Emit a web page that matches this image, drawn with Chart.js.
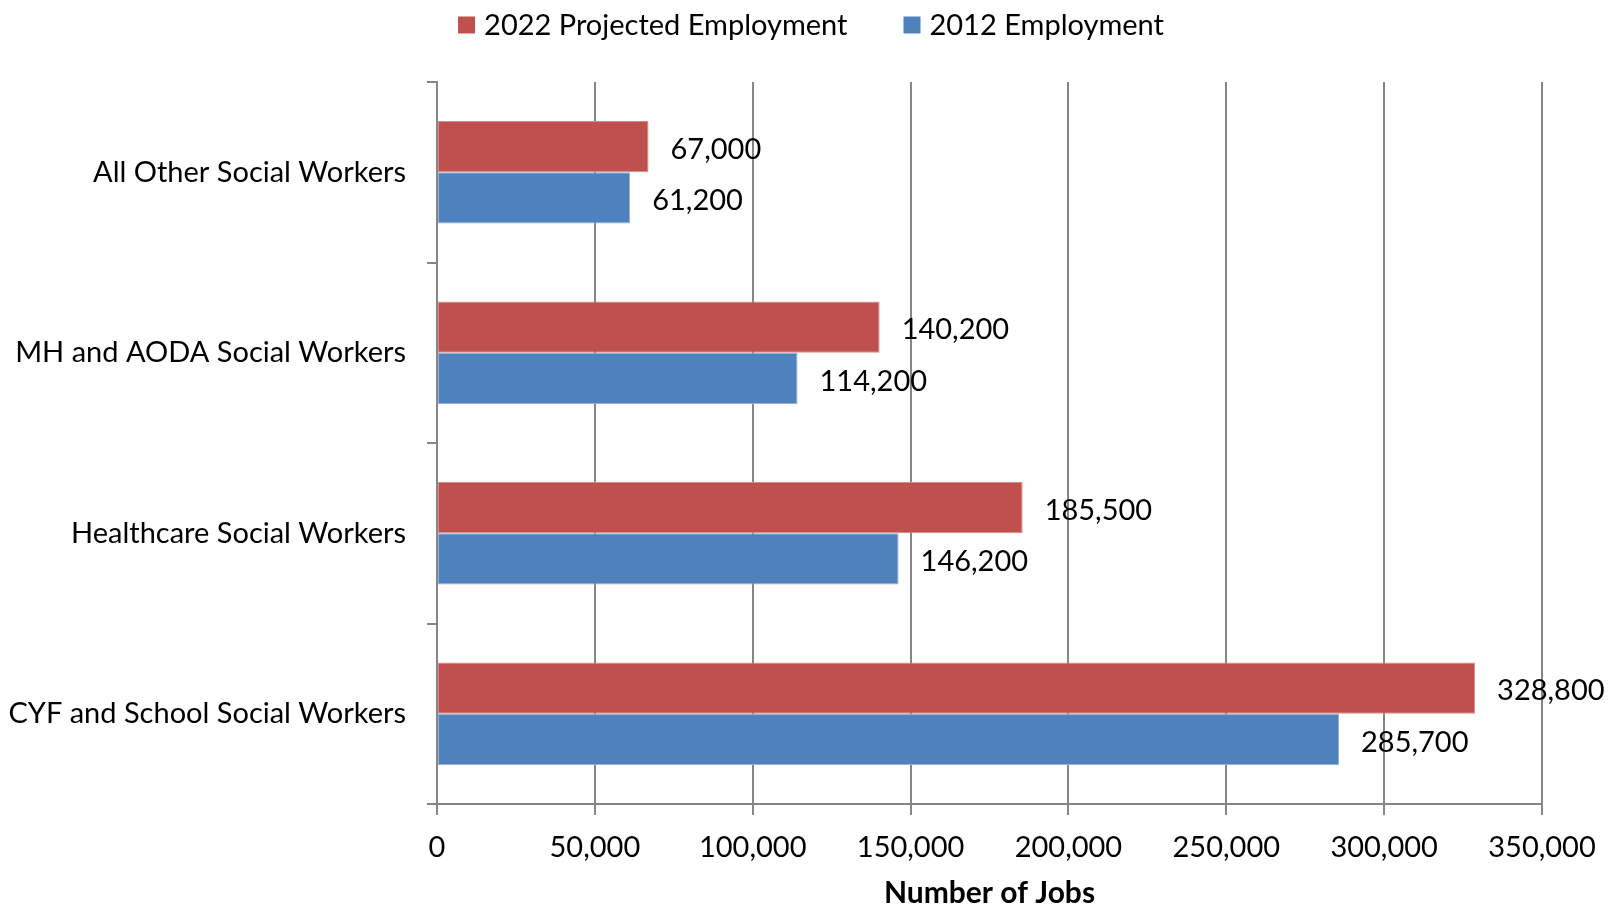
<!DOCTYPE html>
<html>
<head>
<meta charset="utf-8">
<title>Social Worker Employment, 2012 and 2022 Projected</title>
<script src="https://cdn.jsdelivr.net/npm/chart.js@4.4.1/dist/chart.umd.min.js"></script>
<style>
  html, body { margin: 0; padding: 0; background: #ffffff; }
  #wrap { width: 1608px; height: 905px; position: relative; }
</style>
</head>
<body>
<div id="wrap"><canvas id="chart" width="1608" height="905"></canvas></div>
<script>
// Occupation groups (top to bottom)
const categories = [
  'All Other Social Workers',
  'MH and AODA Social Workers',
  'Healthcare Social Workers',
  'CYF and School Social Workers'
];
const seriesNames = ['2022 Projected Employment', '2012 Employment'];
const projected2022 = [67000, 140200, 185500, 328800];
const employment2012 = [61200, 114200, 146200, 285700];
const xTicks = [0, 50000, 100000, 150000, 200000, 250000, 300000, 350000];
const xTitle = 'Number of Jobs';

const FONT = 'Lato, "Open Sans", "DejaVu Sans", sans-serif';
const FS = 29;
const RED = '#C0504D';
const BLUE = '#4F81BD';
const GRID = '#868686';

const fmt = v => v.toLocaleString('en-US');

// Value labels to the right of each bar end
const valueLabels = {
  id: 'valueLabels',
  afterDatasetsDraw(chart) {
    const ctx = chart.ctx;
    ctx.save();
    ctx.font = FS + 'px ' + FONT;
    ctx.fillStyle = '#000';
    ctx.textAlign = 'left';
    ctx.textBaseline = 'middle';
    chart.data.datasets.forEach((ds, i) => {
      const meta = chart.getDatasetMeta(i);
      meta.data.forEach((bar, j) => {
        ctx.fillText(fmt(ds.data[j]), bar.x + 22, bar.y + 3);
      });
    });
    ctx.restore();
  }
};

// Legend row across the top
const topLegend = {
  id: 'topLegend',
  afterDraw(chart) {
    const ctx = chart.ctx;
    ctx.save();
    ctx.font = FS + 'px ' + FONT;
    ctx.textBaseline = 'middle';
    ctx.textAlign = 'left';
    const box = 17, gapText = 9, gapItem = 56;
    const items = chart.data.datasets.map(ds => ({ text: ds.label, color: ds.backgroundColor, w: ctx.measureText(ds.label).width }));
    const total = items.reduce((s, it) => s + box + gapText + it.w, 0) + gapItem * (items.length - 1);
    let x = chart.width / 2 + 7 - total / 2;
    const cy = 25;
    items.forEach(it => {
      ctx.fillStyle = it.color;
      ctx.fillRect(x, cy - box / 2, box, box);
      ctx.fillStyle = '#000';
      ctx.fillText(it.text, x + box + gapText, cy + 1);
      x += box + gapText + it.w + gapItem;
    });
    ctx.restore();
  }
};

new Chart(document.getElementById('chart'), {
  type: 'bar',
  data: {
    labels: categories,
    datasets: [
      { label: seriesNames[0], data: projected2022, backgroundColor: RED, borderColor: '#D58A88', borderWidth: 1, borderSkipped: false },
      { label: seriesNames[1], data: employment2012, backgroundColor: BLUE, borderColor: '#93B1D8', borderWidth: 1, borderSkipped: false }
    ]
  },
  plugins: [valueLabels, topLegend],
  options: {
    indexAxis: 'y',
    responsive: false,
    animation: false,
    devicePixelRatio: 1,
    layout: { padding: { top: 82, right: 66, left: 0, bottom: 0 } },
    datasets: { bar: { categoryPercentage: 0.568, barPercentage: 1.0 } },
    plugins: {
      legend: { display: false },
      tooltip: { enabled: false }
    },
    scales: {
      x: {
        min: 0,
        max: 350000,
        afterBuildTicks(scale) { scale.ticks = xTicks.map(v => ({ value: v })); },
        afterFit(scale) {
          scale.height = 101;
          scale.paddingLeft = 0;
          scale.paddingRight = 0;
        },
        ticks: {
          color: '#000',
          font: { family: FONT, size: FS },
          padding: 15,
          maxRotation: 0,
          callback: v => fmt(v)
        },
        grid: { color: GRID, lineWidth: 2, tickLength: 11, drawTicks: true },
        border: { color: GRID, width: 2 },
        title: {
          display: true,
          text: xTitle,
          color: '#000',
          font: { family: FONT, size: 30, weight: 'bold', lineHeight: 1 },
          padding: { top: 0, bottom: -3 }
        }
      },
      y: {
        afterFit(scale) { scale.width = 437; },
        ticks: {
          color: '#000',
          font: { family: FONT, size: FS },
          padding: 21
        },
        grid: { drawOnChartArea: false, drawTicks: true, tickLength: 10, color: GRID, lineWidth: 2, offset: true },
        border: { color: GRID, width: 2 }
      }
    }
  }
});
</script>
</body>
</html>
